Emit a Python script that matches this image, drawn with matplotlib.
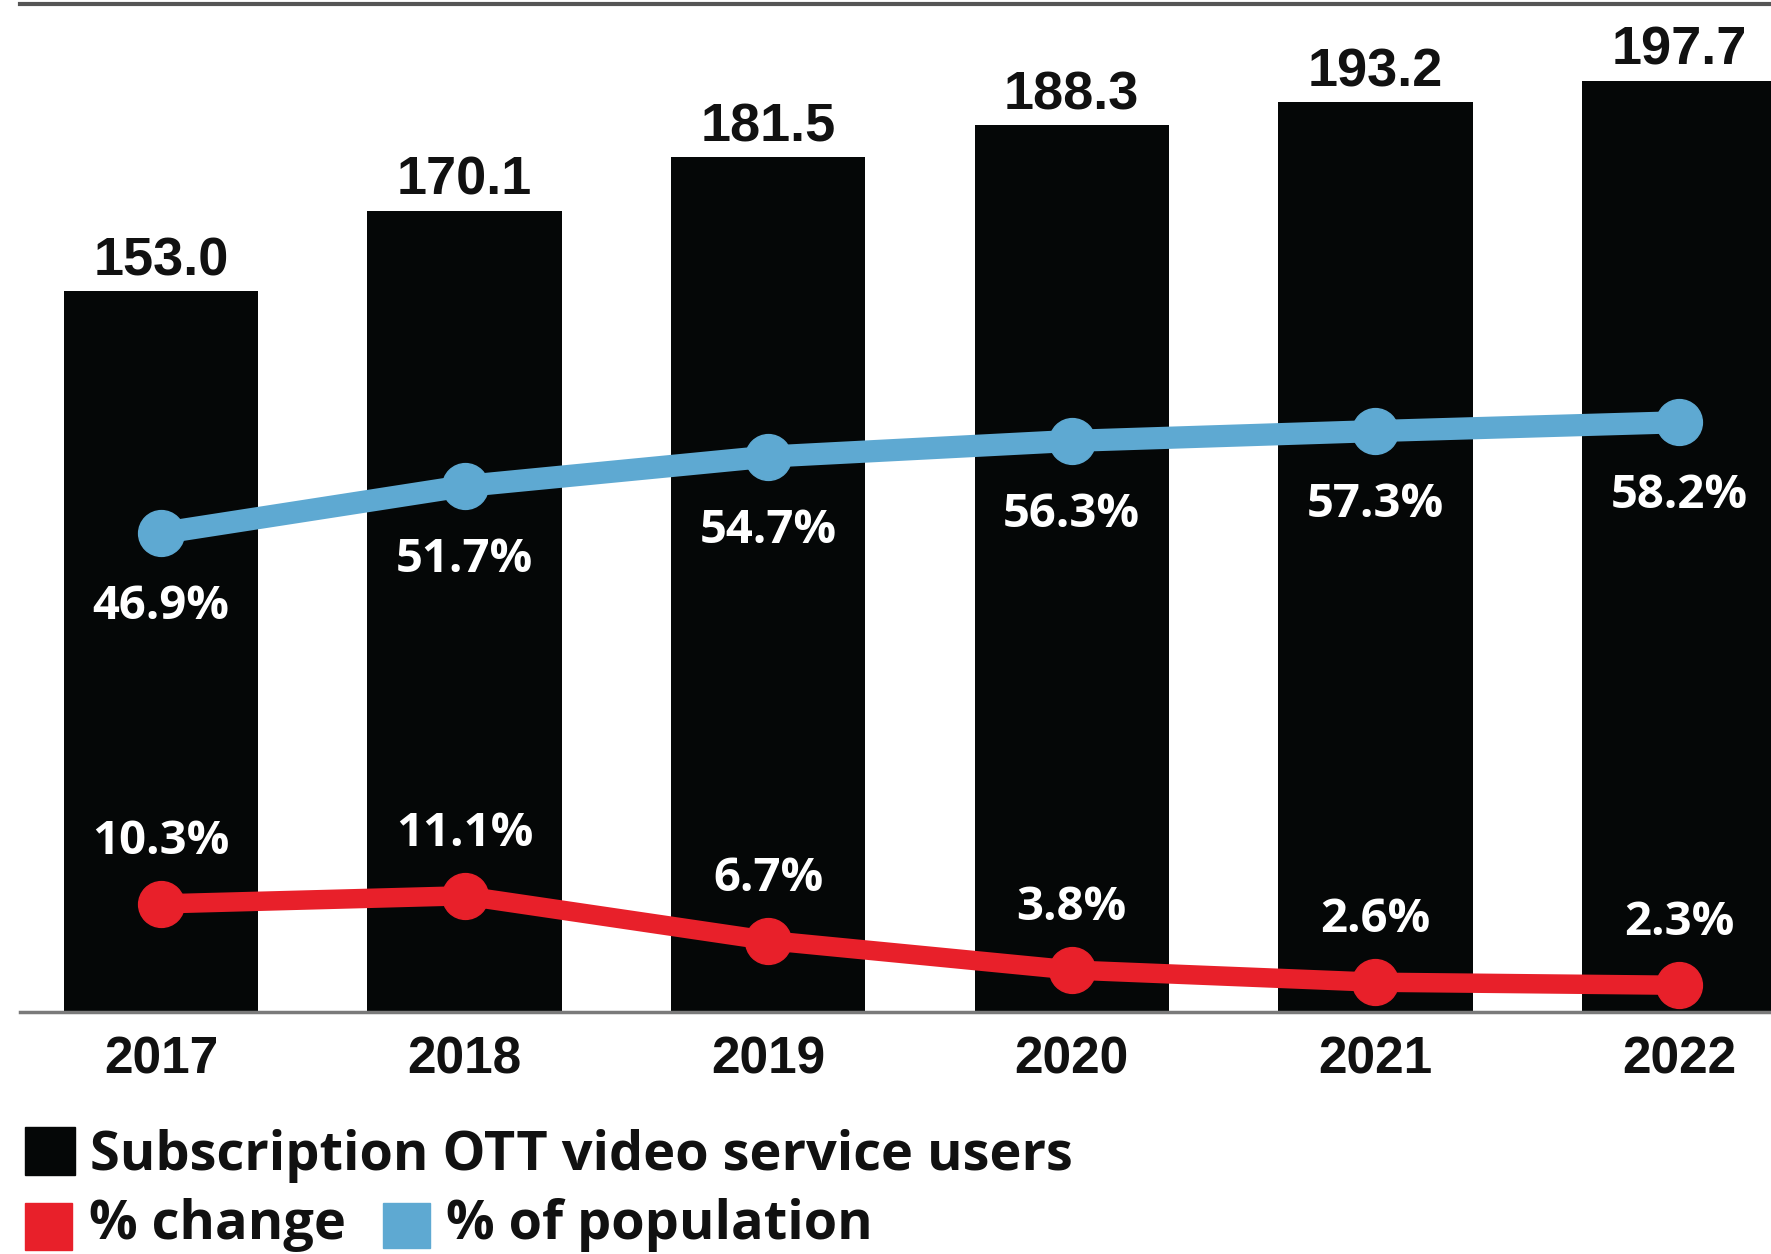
import matplotlib.pyplot as plt
from matplotlib.patches import Rectangle

# OTT subscription users (millions) and the two percentage series
years = ['2017', '2018', '2019', '2020', '2021', '2022']
users = [153.0, 170.1, 181.5, 188.3, 193.2, 197.7]
pct_change = [10.3, 11.1, 6.7, 3.8, 2.6, 2.3]
pct_population = [46.9, 51.7, 54.7, 56.3, 57.3, 58.2]

BAR_COLOR = '#050707'
RED = '#e8202a'
BLUE = '#5ea9d2'
NUM_FONT = 'Liberation Sans'
TXT_FONT = 'Open Sans'

W, H = 1771, 1254
fig = plt.figure(figsize=(W / 100, H / 100), dpi=100)


def fx(px):
    return px / W


def fy(px):
    return 1 - px / H


# main axes: bars
ax = fig.add_axes([fx(20), fy(1012), fx(1751), 1008 / H])
x = list(range(len(years)))
ax.bar(x, users, width=0.64, color=BAR_COLOR, zorder=1)
ax.set_xlim(-0.464, 5.303)
ax.set_ylim(0, 214)
for i, v in enumerate(users):
    ax.annotate(f'{v:.1f}', (i, v), xytext=(0, 11.5), textcoords='offset points',
                ha='center', va='baseline', fontsize=39, fontweight='bold',
                family=NUM_FONT, color='#111111')

ax.set_xticks(x)
ax.set_xticklabels(years, fontsize=37, fontweight='bold', family=NUM_FONT, color='#111111')
ax.tick_params(axis='x', length=0, pad=17)
ax.set_yticks([])
ax.spines['left'].set_visible(False)
ax.spines['right'].set_visible(False)
ax.spines['top'].set_color('#555555')
ax.spines['top'].set_linewidth(3)
ax.spines['bottom'].set_color('#7a7a7a')
ax.spines['bottom'].set_linewidth(2.5)

# % of population line
ax_b = ax.twinx()
ax_b.plot(x, pct_population, color=BLUE, lw=16, marker='o', ms=33,
          solid_capstyle='round')
ax_b.set_ylim(-1.87, 100.8)
for i, v in enumerate(pct_population):
    ax_b.annotate(f'{v}%', (i, v), xytext=(0, -53), textcoords='offset points',
                  ha='center', va='center', fontsize=34, fontweight='bold',
                  family=TXT_FONT, color='white')

# % change line
ax_r = ax.twinx()
ax_r.plot(x, pct_change, color=RED, lw=14, marker='o', ms=33,
          solid_capstyle='round')
ax_r.set_ylim(-0.33, 98.8)
for i, v in enumerate(pct_change):
    ax_r.annotate(f'{v}%', (i, v), xytext=(0, 45), textcoords='offset points',
                  ha='center', va='center', fontsize=34, fontweight='bold',
                  family=TXT_FONT, color='white')

for a in (ax_b, ax_r):
    a.set_xlim(ax.get_xlim())
    a.axis('off')

# legend drawn in figure pixels
legend_rows = [
    (25, 1127, 50, 48, BAR_COLOR, 90, 1170, 'Subscription OTT video service users'),
    (25, 1203, 47, 47, RED, 89, 1239, '% change'),
    (383, 1203, 47, 45, BLUE, 446, 1239, '% of population'),
]
for sx, sy, sw, sh, c, tx, ty, label in legend_rows:
    fig.add_artist(Rectangle((fx(sx), fy(sy + sh)), fx(sw), sh / H,
                             transform=fig.transFigure, color=c))
    fig.text(fx(tx), fy(ty), label, fontsize=39, fontweight='bold',
             family=TXT_FONT, color='#111111', va='baseline', ha='left')

fig.savefig('out.png', dpi=100)
